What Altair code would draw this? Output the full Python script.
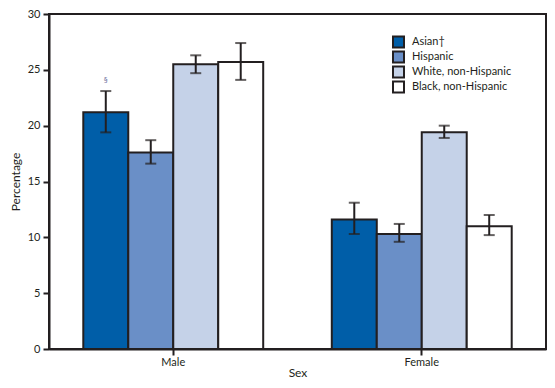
import altair as alt
import pandas as pd

sexes = ["Male", "Female"]
groups = ["Asian†", "Hispanic", "White, non-Hispanic", "Black, non-Hispanic"]
colors = ["#005EA8", "#6A8FC7", "#C5D2E8", "#FFFFFF"]

male_vals = [21.2, 17.6, 25.5, 25.7]
male_lo = [19.4, 16.6, 24.7, 24.1]
male_hi = [23.1, 18.7, 26.3, 27.4]
female_vals = [11.6, 10.3, 19.4, 11.0]
female_lo = [10.3, 9.6, 18.9, 10.2]
female_hi = [13.1, 11.2, 20.0, 12.0]

rows = []
for sex, vals, lo, hi in [("Male", male_vals, male_lo, male_hi),
                          ("Female", female_vals, female_lo, female_hi)]:
    for g, v, l, h in zip(groups, vals, lo, hi):
        rows.append({"Sex": sex, "Group": g, "Value": v, "Lo": l, "Hi": h,
                     "Note": "§" if (sex == "Male" and g == "Asian†") else ""})
df = pd.DataFrame(rows)

FONT = "Lato"
DARK = "#231F20"

x = alt.X("Sex:N", sort=sexes, title="Sex",
          scale=alt.Scale(paddingInner=0.276, paddingOuter=0.138),
          axis=alt.Axis(labelAngle=0, labelFontSize=11, titleFontSize=12,
                        labelColor=DARK, titleColor=DARK, domainColor=DARK,
                        domainWidth=2, tickColor=DARK, tickWidth=2, tickSize=6,
                        labelPadding=1, titlePadding=0, labelFont=FONT, titleFont=FONT,
                        titleFontWeight="normal"))
xo = alt.XOffset("Group:N", sort=groups, scale=alt.Scale(paddingInner=0, paddingOuter=0))
y = alt.Y("Value:Q", title="Percentage",
          scale=alt.Scale(domain=[0, 30], nice=False),
          axis=alt.Axis(values=[0, 5, 10, 15, 20, 25, 30], grid=False, labelFontSize=11,
                        titleFontSize=12, labelColor=DARK, titleColor=DARK,
                        domainColor=DARK, domainWidth=2, tickColor=DARK, tickWidth=2,
                        tickSize=6, labelPadding=3, titlePadding=5, labelFont=FONT,
                        titleFont=FONT, titleFontWeight="normal"))

base = alt.Chart(df)

bars = base.mark_bar(stroke=DARK, strokeWidth=2).encode(
    x=x, xOffset=xo, y=y,
    fill=alt.Fill("Group:N", sort=groups,
                  scale=alt.Scale(domain=groups, range=colors),
                  legend=alt.Legend(title=None, orient="none", legendX=343, legendY=21,
                                    symbolType="square", symbolSize=120,
                                    symbolStrokeColor=DARK, symbolStrokeWidth=2,
                                    labelFontSize=11, labelFont=FONT, labelColor=DARK,
                                    clipHeight=14, rowPadding=1, labelOffset=7)),
)

rules = base.mark_rule(color=DARK, strokeWidth=2).encode(
    x=alt.X("Sex:N", sort=sexes), xOffset=xo,
    y=alt.Y("Lo:Q"), y2="Hi:Q")

caps_lo = base.mark_tick(color=DARK, thickness=2, size=11, orient="horizontal").encode(
    x=alt.X("Sex:N", sort=sexes), xOffset=xo, y=alt.Y("Lo:Q"))
caps_hi = base.mark_tick(color=DARK, thickness=2, size=11, orient="horizontal").encode(
    x=alt.X("Sex:N", sort=sexes), xOffset=xo, y=alt.Y("Hi:Q"))

note = base.mark_text(fontSize=8, color="#6A6A9A", dy=-10, font=FONT).encode(
    x=alt.X("Sex:N", sort=sexes), xOffset=xo, y=alt.Y("Hi:Q"), text="Note:N")

chart = alt.layer(bars, rules, caps_lo, caps_hi, note).properties(
    width=497, height=335,
    autosize=alt.AutoSizeParams(type="none"),
    padding={"left": 41, "top": 6, "right": 1, "bottom": 31},
).configure_view(stroke=DARK, strokeWidth=2)

chart.save("out.html", embed_options={"renderer": "svg", "actions": False})
